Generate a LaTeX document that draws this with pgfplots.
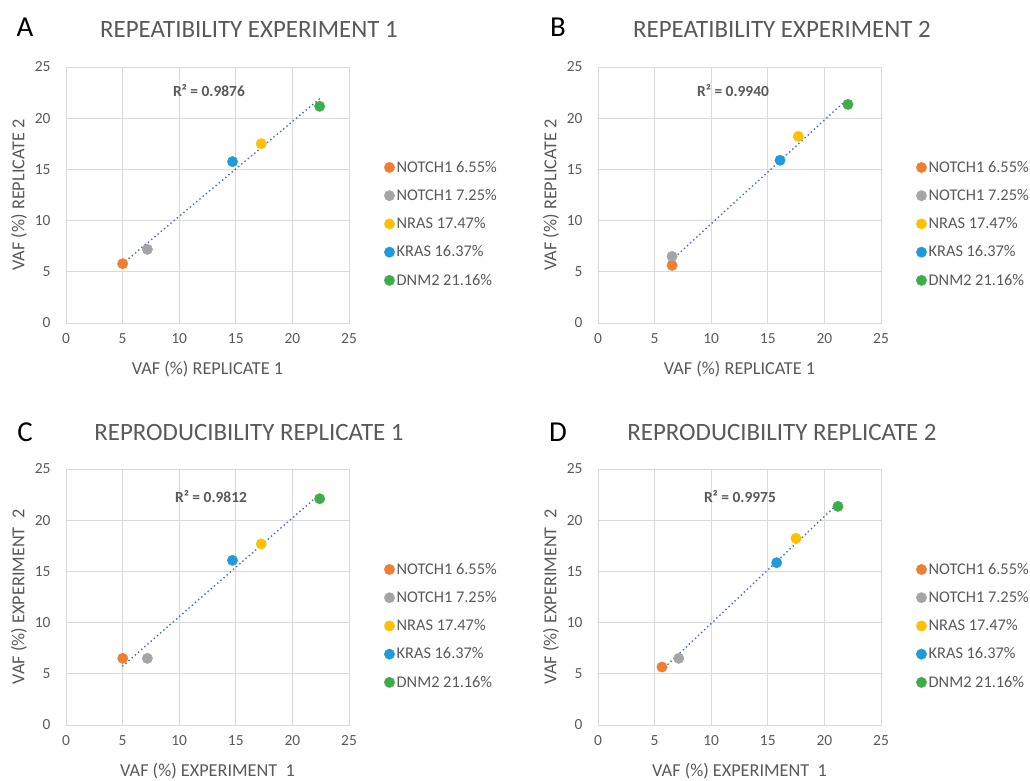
\documentclass[border=0pt]{standalone}
\usepackage{fontspec}
\setmainfont{Carlito}
\usepackage{pgfplots}
\pgfplotsset{compat=1.18}
\definecolor{txt}{HTML}{595959}
\definecolor{gridc}{HTML}{D9D9D9}
\definecolor{cOr}{HTML}{F07D32}
\definecolor{cGr}{HTML}{A5A5A5}
\definecolor{cYe}{HTML}{FFC000}
\definecolor{cBl}{HTML}{1F9BDB}
\definecolor{cGn}{HTML}{3DAE47}
\definecolor{trend}{HTML}{4472C4}

\tikzset{rsq/.style={font=\bfseries\fontsize{15.5}{18}\selectfont, text=txt}}
\pgfplotsset{
  vaf/.style={
    scale only axis, width=283bp, height=256bp,
    xmin=0, xmax=25, ymin=0, ymax=25,
    xtick={0,5,...,25}, ytick={0,5,...,25},
    grid=major, grid style={draw=gridc, line width=0.8bp},
    axis line style={draw=gridc, line width=0.8bp},
    major tick length=0pt,
    /pgf/number format/assume math mode=true,
    ticklabel style={font=\fontsize{15.5}{18}\selectfont, text=txt},
    yticklabel style={xshift=-12bp},
    xticklabel style={yshift=-7bp},
    label style={font=\fontsize{18.3}{21}\selectfont, text=txt},
    xlabel style={at={(axis description cs:0.5,0)}, yshift=-46bp, anchor=center},
    ylabel style={at={(axis description cs:-0.166,0.5)}, anchor=center},
    legend style={draw=none, fill=none, inner sep=0pt, anchor=west,
      at={(axis description cs:1.124,0.387)},
      font=\fontsize{16.4}{18}\selectfont, text=txt, row sep=11.6bp,
      cells={anchor=west}},
    legend image code/.code={\draw[#1] plot coordinates {(5bp,0bp)};},
    every axis plot/.append style={only marks, mark=*, mark size=5.2bp},
  },
  trendl/.style={no markers, forget plot, draw=trend, line width=2bp,
    line cap=round, dash pattern=on 0bp off 4.2bp, sharp plot},
}

\begin{document}
\begin{tikzpicture}
\path[use as bounding box] (0,0) rectangle (1030bp,781bp);

% A
\begin{axis}[vaf, at={(66bp,458bp)}, anchor=south west,
  xlabel={VAF (\%) REPLICATE 1}, ylabel={VAF (\%) REPLICATE 2}]
\addplot[cOr, mark options={fill=cOr, draw=cOr}] coordinates {(5.01,5.79)};
\addplot[cGr, mark options={fill=cGr, draw=cGr}] coordinates {(7.19,7.19)};
\addplot[cYe, mark options={fill=cYe, draw=cYe}] coordinates {(17.25,17.51)};
\addplot[cBl, mark options={fill=cBl, draw=cBl}] coordinates {(14.71,15.76)};
\addplot[cGn, mark options={fill=cGn, draw=cGn}] coordinates {(22.41,21.16)};
\addplot[trendl] coordinates {(5.01,5.80)(22.41,21.90)};
\node[rsq] at (axis cs:12.63,22.66) {R² = 0.9876};
\legend{NOTCH1 6.55\%, NOTCH1 7.25\%, NRAS 17.47\%, KRAS 16.37\%, DNM2 21.16\%}
\end{axis}

% B
\begin{axis}[vaf, at={(598bp,458bp)}, anchor=south west,
  xlabel={VAF (\%) REPLICATE 1}, ylabel={VAF (\%) REPLICATE 2}]
\addplot[cOr, mark options={fill=cOr, draw=cOr}] coordinates {(6.54,5.63)};
\addplot[cGr, mark options={fill=cGr, draw=cGr}] coordinates {(6.54,6.51)};
\addplot[cYe, mark options={fill=cYe, draw=cYe}] coordinates {(17.70,18.23)};
\addplot[cBl, mark options={fill=cBl, draw=cBl}] coordinates {(16.08,15.89)};
\addplot[cGn, mark options={fill=cGn, draw=cGn}] coordinates {(22.08,21.35)};
\addplot[trendl] coordinates {(6.54,6.18)(22.08,21.92)};
\node[rsq] at (axis cs:11.93,22.66) {R² = 0.9940};
\legend{NOTCH1 6.55\%, NOTCH1 7.25\%, NRAS 17.47\%, KRAS 16.37\%, DNM2 21.16\%}
\end{axis}

% C
\begin{axis}[vaf, at={(66bp,56bp)}, anchor=south west,
  xlabel={VAF (\%) EXPERIMENT\ \ 1}, ylabel={VAF (\%) EXPERIMENT\ \ 2}]
\addplot[cOr, mark options={fill=cOr, draw=cOr}] coordinates {(5.01,6.51)};
\addplot[cGr, mark options={fill=cGr, draw=cGr}] coordinates {(7.19,6.51)};
\addplot[cYe, mark options={fill=cYe, draw=cYe}] coordinates {(17.25,17.68)};
\addplot[cBl, mark options={fill=cBl, draw=cBl}] coordinates {(14.71,16.08)};
\addplot[cGn, mark options={fill=cGn, draw=cGn}] coordinates {(22.41,22.10)};
\addplot[trendl] coordinates {(5.01,5.77)(22.41,22.54)};
\node[rsq] at (axis cs:12.81,22.27) {R² = 0.9812};
\legend{NOTCH1 6.55\%, NOTCH1 7.25\%, NRAS 17.47\%, KRAS 16.37\%, DNM2 21.16\%}
\end{axis}

% D
\begin{axis}[vaf, at={(598bp,56bp)}, anchor=south west,
  xlabel={VAF (\%) EXPERIMENT\ \ 1}, ylabel={VAF (\%) EXPERIMENT\ \ 2}]
\addplot[cOr, mark options={fill=cOr, draw=cOr}] coordinates {(5.65,5.66)};
\addplot[cGr, mark options={fill=cGr, draw=cGr}] coordinates {(7.13,6.51)};
\addplot[cYe, mark options={fill=cYe, draw=cYe}] coordinates {(17.49,18.23)};
\addplot[cBl, mark options={fill=cBl, draw=cBl}] coordinates {(15.78,15.85)};
\addplot[cGn, mark options={fill=cGn, draw=cGn}] coordinates {(21.20,21.35)};
\addplot[trendl] coordinates {(5.65,5.37)(21.20,21.62)};
\node[rsq] at (axis cs:12.54,22.27) {R² = 0.9975};
\legend{NOTCH1 6.55\%, NOTCH1 7.25\%, NRAS 17.47\%, KRAS 16.37\%, DNM2 21.16\%}
\end{axis}

% panel letters and titles
\begin{scope}[every node/.style={font=\fontsize{25}{29}\selectfont, text=txt}]
\node at (249bp,752bp) {REPEATIBILITY EXPERIMENT 1};
\node at (782bp,752bp) {REPEATIBILITY EXPERIMENT 2};
\node at (249bp,348bp) {REPRODUCIBILITY REPLICATE 1};
\node at (782bp,348bp) {REPRODUCIBILITY REPLICATE 2};
\end{scope}
\begin{scope}[every node/.style={font=\fontsize{29}{32}\selectfont, text=black}]
\node at (25bp,754bp) {A};
\node at (558bp,754bp) {B};
\node at (25bp,349bp) {C};
\node at (558bp,349bp) {D};
\end{scope}
\end{tikzpicture}
\end{document}
